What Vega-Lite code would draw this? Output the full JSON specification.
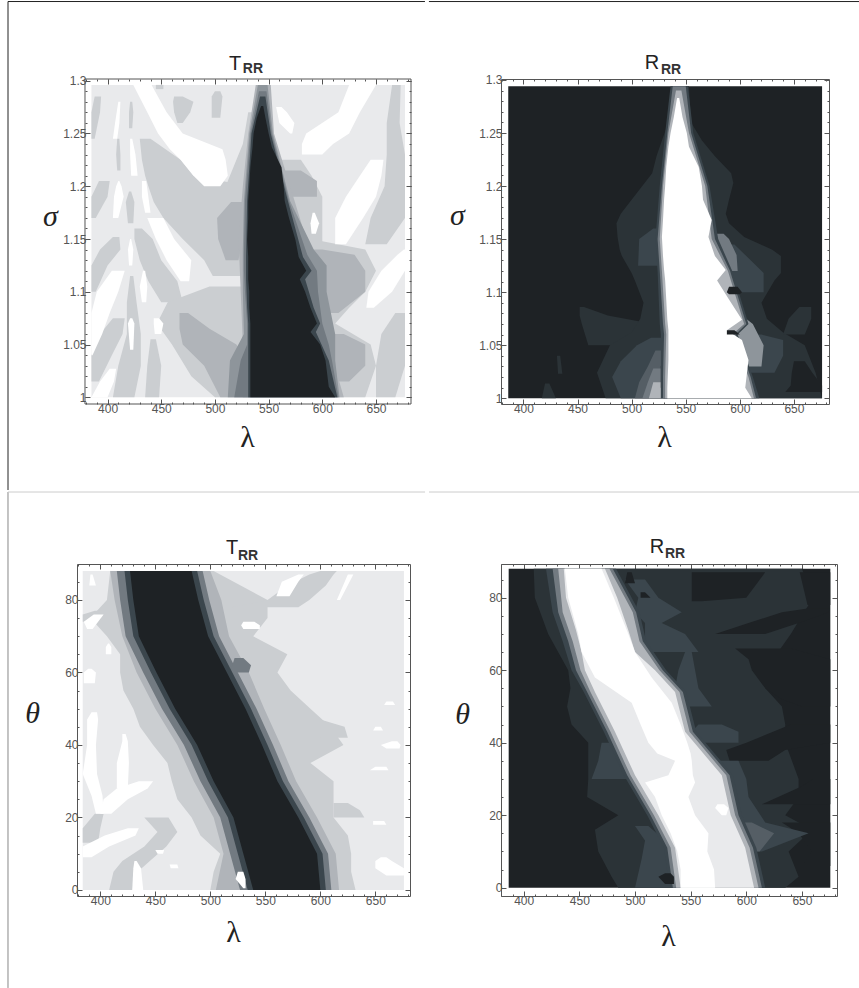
{"$schema":"https://vega.github.io/schema/vega-lite/v6.json","padding":{"left":6,"top":0,"right":0,"bottom":0},"autosize":{"type":"pad"},"background":"white",
"config":{"view":{"stroke":"#555555","fill":"white"},"axis":{"grid":false,"domain":false,"labelFont":"Liberation Sans","labelFontSize":12,"labelColor":"#555555","tickColor":"#555555","tickWidth":1,"labelFlush":false,"labelOverlap":false,"labelPadding":4,"titleFont":"Liberation Serif","titleFontSize":30,"titleFontWeight":"normal","titleColor":"#222222","titleAngle":0,"titleBaseline":"middle","titleAlign":"center"}},
"datasets":{
"p1":[
{"g":"b","v":1,"y":1,"a":385,"b":677},{"g":"b","v":1,"y":1.296,"a":385,"b":677},
{"g":"g1","v":2,"y":1.245,"a":385,"b":388},{"g":"g1","v":2,"y":1.27,"a":385,"b":393},{"g":"g1","v":2,"y":1.285,"a":388,"b":394},
{"g":"g2","v":2,"y":1.17,"a":385,"b":389},{"g":"g2","v":2,"y":1.19,"a":385,"b":400},{"g":"g2","v":2,"y":1.205,"a":392,"b":402},
{"g":"g3","v":2,"y":1.1,"a":385,"b":389},{"g":"g3","v":2,"y":1.125,"a":385,"b":400},{"g":"g3","v":2,"y":1.14,"a":393,"b":412},{"g":"g3","v":2,"y":1.152,"a":405,"b":411},
{"g":"g4","v":2,"y":1.015,"a":385,"b":392},{"g":"g4","v":2,"y":1.04,"a":385,"b":404},{"g":"g4","v":2,"y":1.06,"a":393,"b":414},{"g":"g4","v":2,"y":1.075,"a":405,"b":416},
{"g":"g5","v":2,"y":1,"a":405,"b":425},{"g":"g5","v":2,"y":1.03,"a":410,"b":431},{"g":"g5","v":2,"y":1.06,"a":418,"b":431},{"g":"g5","v":2,"y":1.09,"a":418,"b":427},{"g":"g5","v":2,"y":1.115,"a":421,"b":424},
{"g":"s1","v":2,"y":1.165,"a":419,"b":424},{"g":"s1","v":2,"y":1.185,"a":417,"b":425},{"g":"s1","v":2,"y":1.195,"a":420,"b":422},
{"g":"s2","v":2,"y":1.215,"a":409,"b":412},{"g":"s2","v":2,"y":1.23,"a":408,"b":412},{"g":"s2","v":2,"y":1.245,"a":409,"b":411},
{"g":"s3","v":2,"y":1.255,"a":420,"b":423},{"g":"s3","v":2,"y":1.27,"a":420,"b":424},{"g":"s3","v":2,"y":1.28,"a":421,"b":423},
{"g":"g6","v":2,"y":1.09,"a":450,"b":470},{"g":"g6","v":2,"y":1.11,"a":438,"b":465},{"g":"g6","v":2,"y":1.13,"a":430,"b":450},{"g":"g6","v":2,"y":1.15,"a":425,"b":442},{"g":"g6","v":2,"y":1.16,"a":425,"b":432},
{"g":"g7","v":2,"y":1.115,"a":498,"b":533},{"g":"g7","v":2,"y":1.13,"a":490,"b":533},{"g":"g7","v":2,"y":1.15,"a":470,"b":533},{"g":"g7","v":2,"y":1.17,"a":452,"b":533},{"g":"g7","v":2,"y":1.185,"a":443,"b":533},{"g":"g7","v":2,"y":1.2,"a":438,"b":533},{"g":"g7","v":2,"y":1.21,"a":435,"b":480},{"g":"g7","v":2,"y":1.225,"a":432,"b":468},{"g":"g7","v":2,"y":1.245,"a":430,"b":440},
{"g":"g8","v":2,"y":1.2,"a":510,"b":533},{"g":"g8","v":2,"y":1.24,"a":526,"b":533},{"g":"g8","v":2,"y":1.27,"a":531,"b":536},
{"g":"g9","v":2,"y":1,"a":500,"b":533},{"g":"g9","v":2,"y":1.02,"a":478,"b":533},{"g":"g9","v":2,"y":1.05,"a":460,"b":533},{"g":"g9","v":2,"y":1.07,"a":446,"b":533},{"g":"g9","v":2,"y":1.09,"a":456,"b":533},{"g":"g9","v":2,"y":1.105,"a":495,"b":533},
{"g":"g10","v":2,"y":1,"a":435,"b":448},{"g":"g10","v":2,"y":1.03,"a":437,"b":450},{"g":"g10","v":2,"y":1.055,"a":440,"b":445},
{"g":"g11","v":2,"y":1.13,"a":575,"b":600},{"g":"g11","v":2,"y":1.16,"a":570,"b":600},{"g":"g11","v":2,"y":1.19,"a":565,"b":600},{"g":"g11","v":2,"y":1.21,"a":562,"b":590},{"g":"g11","v":2,"y":1.225,"a":560,"b":580},
{"g":"g12","v":2,"y":1,"a":610,"b":640},{"g":"g12","v":2,"y":1.03,"a":603,"b":650},{"g":"g12","v":2,"y":1.05,"a":600,"b":645},{"g":"g12","v":2,"y":1.07,"a":595,"b":612},{"g":"g12","v":2,"y":1.085,"a":590,"b":625},{"g":"g12","v":2,"y":1.1,"a":585,"b":640},{"g":"g12","v":2,"y":1.12,"a":580,"b":650},{"g":"g12","v":2,"y":1.14,"a":575,"b":640},{"g":"g12","v":2,"y":1.148,"a":575,"b":600},
{"g":"g13","v":2,"y":1.145,"a":640,"b":660},{"g":"g13","v":2,"y":1.17,"a":645,"b":677},{"g":"g13","v":2,"y":1.2,"a":658,"b":677},{"g":"g13","v":2,"y":1.23,"a":660,"b":677},{"g":"g13","v":2,"y":1.26,"a":660,"b":672},{"g":"g13","v":2,"y":1.296,"a":665,"b":673},
{"g":"g14","v":2,"y":1,"a":650,"b":668},{"g":"g14","v":2,"y":1.03,"a":650,"b":677},{"g":"g14","v":2,"y":1.06,"a":655,"b":677},{"g":"g14","v":2,"y":1.08,"a":668,"b":677},
{"g":"d1","v":2,"y":1.26,"a":465,"b":470},{"g":"d1","v":2,"y":1.27,"a":462,"b":477},{"g":"d1","v":2,"y":1.28,"a":461,"b":480},{"g":"d1","v":2,"y":1.285,"a":462,"b":470},
{"g":"d2","v":2,"y":1.265,"a":497,"b":505},{"g":"d2","v":2,"y":1.285,"a":497,"b":507},{"g":"d2","v":2,"y":1.29,"a":500,"b":505},
{"g":"d3","v":2,"y":1.292,"a":445,"b":452},{"g":"d3","v":2,"y":1.296,"a":445,"b":452},
{"g":"a1","v":3,"y":1.13,"a":510,"b":522},{"g":"a1","v":3,"y":1.15,"a":503,"b":525},{"g":"a1","v":3,"y":1.17,"a":502,"b":527},{"g":"a1","v":3,"y":1.185,"a":515,"b":528},
{"g":"a2","v":3,"y":1,"a":505,"b":533},{"g":"a2","v":3,"y":1.03,"a":490,"b":533},{"g":"a2","v":3,"y":1.05,"a":470,"b":520},{"g":"a2","v":3,"y":1.065,"a":467,"b":495},{"g":"a2","v":3,"y":1.08,"a":467,"b":475},
{"g":"a3","v":3,"y":1.08,"a":595,"b":615},{"g":"a3","v":3,"y":1.1,"a":590,"b":640},{"g":"a3","v":3,"y":1.12,"a":590,"b":640},{"g":"a3","v":3,"y":1.135,"a":580,"b":630},{"g":"a3","v":3,"y":1.14,"a":578,"b":600},
{"g":"a4","v":3,"y":1.015,"a":606,"b":625},{"g":"a4","v":3,"y":1.03,"a":600,"b":640},{"g":"a4","v":3,"y":1.05,"a":600,"b":640},{"g":"a4","v":3,"y":1.06,"a":596,"b":620},
{"g":"a5","v":3,"y":1.19,"a":565,"b":595},{"g":"a5","v":3,"y":1.205,"a":565,"b":595},{"g":"a5","v":3,"y":1.215,"a":564,"b":580},
{"g":"m3","v":3,"y":1,"a":526,"b":620},{"g":"m3","v":3,"y":1.05,"a":526,"b":606},{"g":"m3","v":3,"y":1.1,"a":524,"b":594},{"g":"m3","v":3,"y":1.15,"a":522,"b":585},{"g":"m3","v":3,"y":1.2,"a":526,"b":570},{"g":"m3","v":3,"y":1.25,"a":531,"b":555},{"g":"m3","v":3,"y":1.296,"a":538,"b":552},
{"g":"m4","v":4,"y":1,"a":512,"b":616},{"g":"m4","v":4,"y":1.035,"a":514,"b":612},{"g":"m4","v":4,"y":1.06,"a":527,"b":612},{"g":"m4","v":4,"y":1.1,"a":526,"b":604},{"g":"m4","v":4,"y":1.125,"a":526,"b":604},{"g":"m4","v":4,"y":1.14,"a":526,"b":592},{"g":"m4","v":4,"y":1.186,"a":527,"b":570},{"g":"m4","v":4,"y":1.25,"a":532,"b":554},{"g":"m4","v":4,"y":1.296,"a":540,"b":549},
{"g":"m5","v":5,"y":1,"a":518,"b":615},{"g":"m5","v":5,"y":1.035,"a":524,"b":609},{"g":"m5","v":5,"y":1.05,"a":530,"b":606},{"g":"m5","v":5,"y":1.07,"a":530,"b":600},{"g":"m5","v":5,"y":1.1,"a":528,"b":596},{"g":"m5","v":5,"y":1.12,"a":527,"b":595},{"g":"m5","v":5,"y":1.135,"a":527,"b":586},{"g":"m5","v":5,"y":1.186,"a":528,"b":569},{"g":"m5","v":5,"y":1.25,"a":533,"b":553},{"g":"m5","v":5,"y":1.29,"a":541,"b":548},
{"g":"m7","v":7,"y":1,"a":531,"b":614},{"g":"m7","v":7,"y":1.035,"a":531,"b":606},{"g":"m7","v":7,"y":1.062,"a":531,"b":594},{"g":"m7","v":7,"y":1.07,"a":531,"b":598},{"g":"m7","v":7,"y":1.085,"a":530,"b":592},{"g":"m7","v":7,"y":1.112,"a":529,"b":584},{"g":"m7","v":7,"y":1.12,"a":529,"b":590},{"g":"m7","v":7,"y":1.133,"a":529,"b":582},{"g":"m7","v":7,"y":1.186,"a":530,"b":568},{"g":"m7","v":7,"y":1.25,"a":534,"b":552},{"g":"m7","v":7,"y":1.285,"a":542,"b":547},
{"g":"m9","v":9,"y":1,"a":533,"b":612},{"g":"m9","v":9,"y":1.01,"a":533,"b":606},{"g":"m9","v":9,"y":1.035,"a":533,"b":603},{"g":"m9","v":9,"y":1.05,"a":533,"b":598},{"g":"m9","v":9,"y":1.062,"a":533,"b":589},{"g":"m9","v":9,"y":1.07,"a":533,"b":595},{"g":"m9","v":9,"y":1.085,"a":532,"b":589},{"g":"m9","v":9,"y":1.1,"a":532,"b":584},{"g":"m9","v":9,"y":1.112,"a":531,"b":579},{"g":"m9","v":9,"y":1.12,"a":531,"b":585},{"g":"m9","v":9,"y":1.133,"a":531,"b":578},{"g":"m9","v":9,"y":1.149,"a":530,"b":575},{"g":"m9","v":9,"y":1.17,"a":531,"b":569},{"g":"m9","v":9,"y":1.186,"a":531,"b":565},{"g":"m9","v":9,"y":1.2,"a":532,"b":564},{"g":"m9","v":9,"y":1.218,"a":533,"b":562},{"g":"m9","v":9,"y":1.237,"a":535,"b":553},{"g":"m9","v":9,"y":1.25,"a":536,"b":550},{"g":"m9","v":9,"y":1.265,"a":539,"b":547},{"g":"m9","v":9,"y":1.276,"a":543,"b":545},
{"g":"w1","v":0,"y":1,"a":385,"b":400},{"g":"w1","v":0,"y":1.015,"a":393,"b":406},{"g":"w1","v":0,"y":1.027,"a":402,"b":408},
{"g":"w2","v":0,"y":1.04,"a":385,"b":386},{"g":"w2","v":0,"y":1.06,"a":385,"b":395},{"g":"w2","v":0,"y":1.08,"a":385,"b":402},{"g":"w2","v":0,"y":1.1,"a":390,"b":410},{"g":"w2","v":0,"y":1.12,"a":404,"b":416},
{"g":"w3","v":0,"y":1.045,"a":421,"b":424},{"g":"w3","v":0,"y":1.07,"a":419,"b":425},{"g":"w3","v":0,"y":1.075,"a":421,"b":423},
{"g":"w4","v":0,"y":1.09,"a":432,"b":436},{"g":"w4","v":0,"y":1.105,"a":430,"b":437},{"g":"w4","v":0,"y":1.12,"a":433,"b":435},
{"g":"w5","v":0,"y":1.06,"a":444,"b":450},{"g":"w5","v":0,"y":1.07,"a":443,"b":452},{"g":"w5","v":0,"y":1.075,"a":443,"b":448},
{"g":"w7","v":0,"y":1.125,"a":420,"b":423},{"g":"w7","v":0,"y":1.14,"a":419,"b":424},{"g":"w7","v":0,"y":1.15,"a":421,"b":422},
{"g":"w8","v":0,"y":1.11,"a":468,"b":476},{"g":"w8","v":0,"y":1.13,"a":455,"b":478},{"g":"w8","v":0,"y":1.15,"a":445,"b":462},{"g":"w8","v":0,"y":1.17,"a":437,"b":452},
{"g":"w9","v":0,"y":1.17,"a":405,"b":410},{"g":"w9","v":0,"y":1.19,"a":406,"b":415},{"g":"w9","v":0,"y":1.2,"a":408,"b":413},{"g":"w9","v":0,"y":1.205,"a":410,"b":411},
{"g":"w10","v":0,"y":1.175,"a":435,"b":440},{"g":"w10","v":0,"y":1.19,"a":432,"b":438},{"g":"w10","v":0,"y":1.205,"a":432,"b":436},
{"g":"w11","v":0,"y":1.21,"a":422,"b":428},{"g":"w11","v":0,"y":1.23,"a":421,"b":426},{"g":"w11","v":0,"y":1.245,"a":421,"b":423},
{"g":"w12","v":0,"y":1.245,"a":405,"b":409},{"g":"w12","v":0,"y":1.26,"a":407,"b":411},{"g":"w12","v":0,"y":1.28,"a":410,"b":412},
{"g":"w13","v":0,"y":1.2,"a":490,"b":505},{"g":"w13","v":0,"y":1.21,"a":480,"b":512},{"g":"w13","v":0,"y":1.225,"a":468,"b":510},{"g":"w13","v":0,"y":1.235,"a":458,"b":507},{"g":"w13","v":0,"y":1.25,"a":447,"b":470},{"g":"w13","v":0,"y":1.27,"a":437,"b":455},{"g":"w13","v":0,"y":1.296,"a":424,"b":441},
{"g":"w14","v":0,"y":1.25,"a":570,"b":572},{"g":"w14","v":0,"y":1.26,"a":560,"b":574},{"g":"w14","v":0,"y":1.27,"a":558,"b":567},{"g":"w14","v":0,"y":1.275,"a":557,"b":562},
{"g":"w15","v":0,"y":1.23,"a":581,"b":600},{"g":"w15","v":0,"y":1.24,"a":581,"b":610},{"g":"w15","v":0,"y":1.25,"a":585,"b":625},{"g":"w15","v":0,"y":1.27,"a":615,"b":635},{"g":"w15","v":0,"y":1.296,"a":625,"b":650},
{"g":"w16","v":0,"y":1.145,"a":612,"b":622},{"g":"w16","v":0,"y":1.17,"a":612,"b":638},{"g":"w16","v":0,"y":1.19,"a":622,"b":650},{"g":"w16","v":0,"y":1.21,"a":635,"b":655},{"g":"w16","v":0,"y":1.225,"a":645,"b":657},
{"g":"w17","v":0,"y":1.155,"a":590,"b":594},{"g":"w17","v":0,"y":1.165,"a":589,"b":597},{"g":"w17","v":0,"y":1.175,"a":591,"b":593},
{"g":"w18","v":0,"y":1.085,"a":641,"b":648},{"g":"w18","v":0,"y":1.1,"a":643,"b":665},{"g":"w18","v":0,"y":1.12,"a":655,"b":677},{"g":"w18","v":0,"y":1.135,"a":670,"b":677},{"g":"w18","v":0,"y":1.14,"a":676,"b":677}
],
"p2":[
{"g":"b","v":9,"y":1,"a":386,"b":676},{"g":"b","v":9,"y":1.294,"a":386,"b":676},
{"g":"e1","v":8,"y":1,"a":417,"b":430},{"g":"e1","v":8,"y":1.014,"a":420,"b":424},
{"g":"e2","v":8,"y":1.023,"a":432,"b":436},{"g":"e2","v":8,"y":1.04,"a":431,"b":434},
{"g":"e3","v":8,"y":1.05,"a":460,"b":520},{"g":"e3","v":8,"y":1.07,"a":454,"b":520},{"g":"e3","v":8,"y":1.078,"a":452,"b":478},{"g":"e3","v":8,"y":1.086,"a":452,"b":456},
{"g":"e4","v":8,"y":1,"a":476,"b":676},{"g":"e4","v":8,"y":1.024,"a":468,"b":670},{"g":"e4","v":8,"y":1.05,"a":480,"b":660},{"g":"e4","v":8,"y":1.062,"a":500,"b":640},{"g":"e4","v":8,"y":1.075,"a":508,"b":625},{"g":"e4","v":8,"y":1.09,"a":511,"b":620},{"g":"e4","v":8,"y":1.111,"a":503,"b":632},{"g":"e4","v":8,"y":1.118,"a":500,"b":638},{"g":"e4","v":8,"y":1.134,"a":491,"b":638},{"g":"e4","v":8,"y":1.14,"a":489,"b":630},{"g":"e4","v":8,"y":1.152,"a":487,"b":604},{"g":"e4","v":8,"y":1.165,"a":486,"b":590},{"g":"e4","v":8,"y":1.174,"a":490,"b":587},{"g":"e4","v":8,"y":1.187,"a":500,"b":590},{"g":"e4","v":8,"y":1.203,"a":512,"b":594},{"g":"e4","v":8,"y":1.212,"a":519,"b":592},{"g":"e4","v":8,"y":1.228,"a":523,"b":577},{"g":"e4","v":8,"y":1.243,"a":528,"b":565},{"g":"e4","v":8,"y":1.26,"a":534,"b":555},{"g":"e4","v":8,"y":1.294,"a":538,"b":553},
{"g":"e5","v":8,"y":1.06,"a":640,"b":660},{"g":"e5","v":8,"y":1.075,"a":645,"b":666},{"g":"e5","v":8,"y":1.086,"a":655,"b":666},
{"g":"h1","v":9,"y":1.006,"a":642,"b":676},{"g":"h1","v":9,"y":1.012,"a":647,"b":676},{"g":"h1","v":9,"y":1.024,"a":648,"b":667},{"g":"h1","v":9,"y":1.035,"a":650,"b":660},
{"g":"l1","v":7,"y":1.125,"a":506,"b":530},{"g":"l1","v":7,"y":1.15,"a":507,"b":530},{"g":"l1","v":7,"y":1.16,"a":520,"b":530},
{"g":"l2","v":7,"y":1,"a":490,"b":533},{"g":"l2","v":7,"y":1.02,"a":482,"b":533},{"g":"l2","v":7,"y":1.035,"a":490,"b":533},{"g":"l2","v":7,"y":1.05,"a":505,"b":533},{"g":"l2","v":7,"y":1.057,"a":518,"b":533},
{"g":"l3","v":7,"y":1.1,"a":585,"b":622},{"g":"l3","v":7,"y":1.118,"a":585,"b":622},{"g":"l3","v":7,"y":1.13,"a":580,"b":610},{"g":"l3","v":7,"y":1.145,"a":575,"b":595},
{"g":"l4","v":7,"y":1.024,"a":603,"b":632},{"g":"l4","v":7,"y":1.04,"a":603,"b":640},{"g":"l4","v":7,"y":1.055,"a":600,"b":640},{"g":"l4","v":7,"y":1.06,"a":595,"b":620},
{"g":"l5","v":6,"y":1,"a":503,"b":533},{"g":"l5","v":6,"y":1.015,"a":507,"b":533},{"g":"l5","v":6,"y":1.03,"a":515,"b":533},{"g":"l5","v":6,"y":1.045,"a":522,"b":533},
{"g":"l6","v":5,"y":1,"a":510,"b":533},{"g":"l6","v":5,"y":1.015,"a":515,"b":533},{"g":"l6","v":5,"y":1.028,"a":520,"b":533},
{"g":"l7","v":3,"y":1,"a":516,"b":530},{"g":"l7","v":3,"y":1.015,"a":520,"b":528},
{"g":"h2","v":9,"y":1.01,"a":527,"b":533},{"g":"h2","v":9,"y":1.03,"a":527,"b":533},{"g":"h2","v":9,"y":1.04,"a":529,"b":533},
{"g":"r1","v":5,"y":1.12,"a":578,"b":598},{"g":"r1","v":5,"y":1.135,"a":575,"b":597},{"g":"r1","v":5,"y":1.15,"a":572,"b":590},{"g":"r1","v":5,"y":1.155,"a":572,"b":585},
{"g":"r2","v":4,"y":1.03,"a":604,"b":620},{"g":"r2","v":4,"y":1.05,"a":600,"b":622},{"g":"r2","v":4,"y":1.07,"a":593,"b":612},{"g":"r2","v":4,"y":1.078,"a":593,"b":602},
{"g":"w7","v":7,"y":1,"a":527,"b":618},{"g":"w7","v":7,"y":1.02,"a":527,"b":612},{"g":"w7","v":7,"y":1.06,"a":527,"b":598},{"g":"w7","v":7,"y":1.07,"a":526,"b":608},{"g":"w7","v":7,"y":1.12,"a":524,"b":593},{"g":"w7","v":7,"y":1.15,"a":522,"b":580},{"g":"w7","v":7,"y":1.2,"a":526,"b":572},{"g":"w7","v":7,"y":1.25,"a":531,"b":557},{"g":"w7","v":7,"y":1.294,"a":536,"b":552},
{"g":"w5","v":5,"y":1,"a":529,"b":615},{"g":"w5","v":5,"y":1.02,"a":529,"b":610},{"g":"w5","v":5,"y":1.06,"a":530,"b":596},{"g":"w5","v":5,"y":1.07,"a":529,"b":606},{"g":"w5","v":5,"y":1.12,"a":526,"b":591},{"g":"w5","v":5,"y":1.15,"a":524,"b":577},{"g":"w5","v":5,"y":1.2,"a":528,"b":570},{"g":"w5","v":5,"y":1.25,"a":533,"b":555},{"g":"w5","v":5,"y":1.294,"a":538,"b":550},
{"g":"w3","v":3,"y":1,"a":531,"b":613},{"g":"w3","v":3,"y":1.02,"a":531,"b":608},{"g":"w3","v":3,"y":1.06,"a":532,"b":593},{"g":"w3","v":3,"y":1.07,"a":531,"b":604},{"g":"w3","v":3,"y":1.12,"a":528,"b":589},{"g":"w3","v":3,"y":1.15,"a":526,"b":574},{"g":"w3","v":3,"y":1.2,"a":529,"b":568},{"g":"w3","v":3,"y":1.25,"a":534,"b":553},{"g":"w3","v":3,"y":1.29,"a":541,"b":546},
{"g":"w0","v":0,"y":1,"a":533,"b":611},{"g":"w0","v":0,"y":1.01,"a":533,"b":605},{"g":"w0","v":0,"y":1.036,"a":534,"b":608},{"g":"w0","v":0,"y":1.055,"a":534,"b":602},{"g":"w0","v":0,"y":1.064,"a":534,"b":588},{"g":"w0","v":0,"y":1.074,"a":533,"b":602},{"g":"w0","v":0,"y":1.093,"a":532,"b":590},{"g":"w0","v":0,"y":1.111,"a":531,"b":579},{"g":"w0","v":0,"y":1.121,"a":530,"b":587},{"g":"w0","v":0,"y":1.134,"a":529,"b":577},{"g":"w0","v":0,"y":1.152,"a":528,"b":571},{"g":"w0","v":0,"y":1.168,"a":529,"b":574},{"g":"w0","v":0,"y":1.187,"a":530,"b":566},{"g":"w0","v":0,"y":1.2,"a":531,"b":565},{"g":"w0","v":0,"y":1.218,"a":532,"b":562},{"g":"w0","v":0,"y":1.237,"a":534,"b":553},{"g":"w0","v":0,"y":1.25,"a":536,"b":551},{"g":"w0","v":0,"y":1.265,"a":539,"b":547},{"g":"w0","v":0,"y":1.283,"a":542,"b":544},
{"g":"h3","v":9,"y":1.098,"a":590,"b":600},{"g":"h3","v":9,"y":1.1,"a":588,"b":602},{"g":"h3","v":9,"y":1.105,"a":590,"b":598},
{"g":"h4","v":9,"y":1.06,"a":588,"b":600},{"g":"h4","v":9,"y":1.064,"a":588,"b":595}
],
"p3":[
{"g":"b","v":1,"y":0,"a":384,"b":676},{"g":"b","v":1,"y":88,"a":384,"b":676},
{"g":"c","v":2,"y":0,"a":500,"b":632},{"g":"c","v":2,"y":5,"a":503,"b":628},{"g":"c","v":2,"y":10,"a":509,"b":628},{"g":"c","v":2,"y":15,"a":491,"b":625},{"g":"c","v":2,"y":20,"a":483,"b":612},{"g":"c","v":2,"y":25,"a":470,"b":612},{"g":"c","v":2,"y":30,"a":465,"b":612},{"g":"c","v":2,"y":35,"a":461,"b":591},{"g":"c","v":2,"y":40,"a":448,"b":621},{"g":"c","v":2,"y":45,"a":436,"b":609},{"g":"c","v":2,"y":50,"a":430,"b":591},{"g":"c","v":2,"y":55,"a":421,"b":573},{"g":"c","v":2,"y":60,"a":418,"b":561},{"g":"c","v":2,"y":65,"a":418,"b":570},{"g":"c","v":2,"y":70,"a":406,"b":539},{"g":"c","v":2,"y":75,"a":391,"b":552},{"g":"c","v":2,"y":80,"a":406,"b":552},{"g":"c","v":2,"y":88,"a":409,"b":503},
{"g":"c1","v":2,"y":78,"a":520,"b":580},{"g":"c1","v":2,"y":80,"a":552,"b":590},{"g":"c1","v":2,"y":84,"a":570,"b":605},{"g":"c1","v":2,"y":87,"a":590,"b":612},{"g":"c1","v":2,"y":88,"a":600,"b":615},
{"g":"c2","v":2,"y":74,"a":384,"b":395},{"g":"c2","v":2,"y":76,"a":384,"b":405},{"g":"c2","v":2,"y":77,"a":395,"b":410},
{"g":"c3","v":2,"y":0,"a":408,"b":430},{"g":"c3","v":2,"y":5,"a":412,"b":434},{"g":"c3","v":2,"y":8,"a":420,"b":445},{"g":"c3","v":2,"y":12,"a":440,"b":460},{"g":"c3","v":2,"y":16,"a":452,"b":470},{"g":"c3","v":2,"y":20,"a":440,"b":462},
{"g":"c4","v":2,"y":13,"a":384,"b":398},{"g":"c4","v":2,"y":17,"a":384,"b":400},{"g":"c4","v":2,"y":21,"a":395,"b":403},
{"g":"c5","v":2,"y":20,"a":612,"b":640},{"g":"c5","v":2,"y":22,"a":612,"b":636},{"g":"c5","v":2,"y":24,"a":612,"b":625},
{"g":"c6","v":2,"y":42,"a":600,"b":625},{"g":"c6","v":2,"y":45,"a":590,"b":622},{"g":"c6","v":2,"y":47,"a":590,"b":600},
{"g":"c7","v":3,"y":0,"a":505,"b":617},{"g":"c7","v":3,"y":10,"a":512,"b":614},{"g":"c7","v":3,"y":20,"a":503,"b":597},{"g":"c7","v":3,"y":30,"a":485,"b":578},{"g":"c7","v":3,"y":40,"a":470,"b":564},{"g":"c7","v":3,"y":50,"a":450,"b":549},{"g":"c7","v":3,"y":60,"a":433,"b":535},{"g":"c7","v":3,"y":70,"a":420,"b":517},{"g":"c7","v":3,"y":80,"a":413,"b":510},{"g":"c7","v":3,"y":88,"a":409,"b":500},
{"g":"c8","v":5,"y":0,"a":527,"b":610},{"g":"c8","v":5,"y":10,"a":518,"b":607},{"g":"c8","v":5,"y":20,"a":509,"b":590},{"g":"c8","v":5,"y":30,"a":491,"b":571},{"g":"c8","v":5,"y":40,"a":476,"b":557},{"g":"c8","v":5,"y":50,"a":456,"b":542},{"g":"c8","v":5,"y":60,"a":439,"b":525},{"g":"c8","v":5,"y":70,"a":423,"b":508},{"g":"c8","v":5,"y":80,"a":418,"b":499},{"g":"c8","v":5,"y":88,"a":415,"b":493},
{"g":"c9","v":5,"y":60,"a":518,"b":535},{"g":"c9","v":5,"y":62,"a":520,"b":537},{"g":"c9","v":5,"y":64,"a":522,"b":530},
{"g":"c10","v":7,"y":0,"a":534,"b":605},{"g":"c10","v":7,"y":10,"a":525,"b":602},{"g":"c10","v":7,"y":20,"a":516,"b":585},{"g":"c10","v":7,"y":30,"a":498,"b":566},{"g":"c10","v":7,"y":40,"a":483,"b":552},{"g":"c10","v":7,"y":50,"a":463,"b":537},{"g":"c10","v":7,"y":60,"a":446,"b":520},{"g":"c10","v":7,"y":70,"a":430,"b":503},{"g":"c10","v":7,"y":80,"a":425,"b":494},{"g":"c10","v":7,"y":88,"a":422,"b":488},
{"g":"m","v":9,"y":0,"a":539,"b":600},{"g":"m","v":9,"y":10,"a":530,"b":597},{"g":"m","v":9,"y":20,"a":521,"b":580},{"g":"m","v":9,"y":30,"a":503,"b":561},{"g":"m","v":9,"y":40,"a":488,"b":547},{"g":"m","v":9,"y":50,"a":468,"b":532},{"g":"m","v":9,"y":60,"a":451,"b":515},{"g":"m","v":9,"y":70,"a":435,"b":498},{"g":"m","v":9,"y":80,"a":430,"b":489},{"g":"m","v":9,"y":88,"a":427,"b":483},
{"g":"w1","v":0,"y":9,"a":384,"b":392},{"g":"w1","v":0,"y":12,"a":384,"b":408},{"g":"w1","v":0,"y":15,"a":404,"b":432},{"g":"w1","v":0,"y":17,"a":425,"b":435},
{"g":"w2","v":0,"y":21,"a":396,"b":403},{"g":"w2","v":0,"y":26,"a":392,"b":402},{"g":"w2","v":0,"y":32,"a":384,"b":397},{"g":"w2","v":0,"y":40,"a":388,"b":396},{"g":"w2","v":0,"y":47,"a":388,"b":398},{"g":"w2","v":0,"y":49,"a":392,"b":397},
{"g":"w3","v":0,"y":21,"a":400,"b":410},{"g":"w3","v":0,"y":25,"a":403,"b":425},{"g":"w3","v":0,"y":28,"a":415,"b":443},{"g":"w3","v":0,"y":30,"a":435,"b":448},
{"g":"w4","v":0,"y":28,"a":415,"b":425},{"g":"w4","v":0,"y":35,"a":415,"b":426},{"g":"w4","v":0,"y":41,"a":420,"b":425},{"g":"w4","v":0,"y":43,"a":420,"b":423},
{"g":"w5","v":0,"y":72,"a":388,"b":393},{"g":"w5","v":0,"y":74,"a":385,"b":398},{"g":"w5","v":0,"y":76,"a":394,"b":403},
{"g":"w6","v":0,"y":57,"a":385,"b":395},{"g":"w6","v":0,"y":60,"a":385,"b":396},{"g":"w6","v":0,"y":61,"a":389,"b":392},
{"g":"w7","v":0,"y":65,"a":405,"b":410},{"g":"w7","v":0,"y":67,"a":405,"b":410},{"g":"w7","v":0,"y":68,"a":407,"b":408},
{"g":"w8","v":0,"y":84,"a":390,"b":396},{"g":"w8","v":0,"y":87,"a":391,"b":393},
{"g":"w9","v":0,"y":0,"a":429,"b":439},{"g":"w9","v":0,"y":6,"a":430,"b":437},{"g":"w9","v":0,"y":8,"a":431,"b":433},
{"g":"w10","v":0,"y":10,"a":452,"b":457},{"g":"w10","v":0,"y":11,"a":450,"b":458},
{"g":"w11","v":0,"y":6,"a":464,"b":471},{"g":"w11","v":0,"y":7,"a":463,"b":470},
{"g":"w12","v":0,"y":0.5,"a":530,"b":532},{"g":"w12","v":0,"y":3,"a":523,"b":532},{"g":"w12","v":0,"y":5,"a":525,"b":530},
{"g":"w13","v":0,"y":4,"a":660,"b":676},{"g":"w13","v":0,"y":6,"a":650,"b":676},{"g":"w13","v":0,"y":8,"a":650,"b":665},{"g":"w13","v":0,"y":9,"a":655,"b":660},
{"g":"w14","v":0,"y":18,"a":648,"b":660},{"g":"w14","v":0,"y":19,"a":648,"b":658},
{"g":"w15","v":0,"y":33,"a":645,"b":662},{"g":"w15","v":0,"y":34,"a":650,"b":660},
{"g":"w16","v":0,"y":39,"a":660,"b":672},{"g":"w16","v":0,"y":40,"a":655,"b":673},{"g":"w16","v":0,"y":41,"a":665,"b":670},
{"g":"w17","v":0,"y":44,"a":648,"b":657},{"g":"w17","v":0,"y":45,"a":650,"b":655},
{"g":"w18","v":0,"y":51,"a":658,"b":668},{"g":"w18","v":0,"y":52,"a":660,"b":666},
{"g":"w19","v":0,"y":81,"a":560,"b":572},{"g":"w19","v":0,"y":85,"a":565,"b":580},{"g":"w19","v":0,"y":87,"a":580,"b":585},
{"g":"w20","v":0,"y":72,"a":530,"b":545},{"g":"w20","v":0,"y":73,"a":528,"b":545},{"g":"w20","v":0,"y":74,"a":530,"b":540},
{"g":"w21","v":0,"y":80,"a":615,"b":618},{"g":"w21","v":0,"y":87,"a":625,"b":630}
],
"p4":[
{"g":"b","v":9,"y":0,"a":386.5,"b":675.5},{"g":"b","v":9,"y":88,"a":386.5,"b":675.5},
{"g":"m","v":8,"y":0,"a":485,"b":635},{"g":"m","v":8,"y":3,"a":479,"b":647},{"g":"m","v":8,"y":10,"a":467,"b":638},{"g":"m","v":8,"y":16,"a":464,"b":659},{"g":"m","v":8,"y":20,"a":485,"b":635},{"g":"m","v":8,"y":25,"a":457,"b":647},{"g":"m","v":8,"y":30,"a":458,"b":647},{"g":"m","v":8,"y":40,"a":458,"b":635},{"g":"m","v":8,"y":45,"a":443,"b":635},{"g":"m","v":8,"y":50,"a":439,"b":632},{"g":"m","v":8,"y":55,"a":442,"b":617},{"g":"m","v":8,"y":60,"a":440,"b":617},{"g":"m","v":8,"y":70,"a":422,"b":640},{"g":"m","v":8,"y":75,"a":416,"b":650},{"g":"m","v":8,"y":80,"a":410,"b":660},{"g":"m","v":8,"y":88,"a":409,"b":650},
{"g":"h1","v":9,"y":79,"a":551,"b":560},{"g":"h1","v":9,"y":80,"a":551,"b":600},{"g":"h1","v":9,"y":87,"a":551,"b":617},
{"g":"h2","v":9,"y":78,"a":655,"b":675.5},{"g":"h2","v":9,"y":87,"a":648,"b":675.5},
{"g":"h3","v":9,"y":70,"a":572,"b":617},{"g":"h3","v":9,"y":73,"a":602,"b":647},{"g":"h3","v":9,"y":76,"a":632,"b":674},{"g":"h3","v":9,"y":77,"a":655,"b":675},
{"g":"h4","v":9,"y":50,"a":650,"b":675.5},{"g":"h4","v":9,"y":52,"a":632,"b":675.5},{"g":"h4","v":9,"y":55,"a":617,"b":675.5},{"g":"h4","v":9,"y":60,"a":605,"b":675.5},{"g":"h4","v":9,"y":63,"a":602,"b":675.5},{"g":"h4","v":9,"y":66,"a":590,"b":640},
{"g":"h5","v":9,"y":35,"a":585,"b":620},{"g":"h5","v":9,"y":38,"a":582,"b":635},{"g":"h5","v":9,"y":40,"a":600,"b":675.5},{"g":"h5","v":9,"y":45,"a":640,"b":675.5},
{"g":"h6","v":9,"y":23,"a":614,"b":675.5},{"g":"h6","v":9,"y":28,"a":650,"b":675.5},{"g":"h6","v":9,"y":30,"a":660,"b":675.5},
{"g":"h7","v":9,"y":6,"a":650,"b":675.5},{"g":"h7","v":9,"y":10,"a":659,"b":675.5},{"g":"h7","v":9,"y":15,"a":647,"b":675.5},{"g":"h7","v":9,"y":18,"a":632,"b":675.5},
{"g":"l1","v":7,"y":30,"a":461,"b":497},{"g":"l1","v":7,"y":35,"a":467,"b":494},{"g":"l1","v":7,"y":40,"a":470,"b":479},
{"g":"l2","v":7,"y":40,"a":554,"b":593},{"g":"l2","v":7,"y":43,"a":551,"b":593},{"g":"l2","v":7,"y":45,"a":557,"b":578},
{"g":"l3","v":7,"y":50,"a":536,"b":569},{"g":"l3","v":7,"y":55,"a":536,"b":557},{"g":"l3","v":7,"y":60,"a":539,"b":554},{"g":"l3","v":7,"y":65,"a":545,"b":551},
{"g":"l4","v":7,"y":65,"a":509,"b":557},{"g":"l4","v":7,"y":70,"a":509,"b":545},{"g":"l4","v":7,"y":73,"a":509,"b":524},{"g":"l4","v":7,"y":76,"a":500,"b":542},{"g":"l4","v":7,"y":80,"a":503,"b":521},{"g":"l4","v":7,"y":85,"a":491,"b":509},
{"g":"l5","v":7,"y":10,"a":596,"b":614},{"g":"l5","v":7,"y":15,"a":605,"b":656},{"g":"l5","v":7,"y":18,"a":587,"b":617},{"g":"l5","v":7,"y":25,"a":587,"b":602},{"g":"l5","v":7,"y":30,"a":580,"b":600},{"g":"l5","v":7,"y":35,"a":566,"b":593},
{"g":"l6","v":7,"y":0,"a":500,"b":539},{"g":"l6","v":7,"y":8,"a":506,"b":539},{"g":"l6","v":7,"y":13,"a":509,"b":527},{"g":"l6","v":7,"y":17,"a":500,"b":512},
{"g":"n1","v":6,"y":10,"a":600,"b":612},{"g":"n1","v":6,"y":15,"a":600,"b":625},{"g":"n1","v":6,"y":18,"a":592,"b":605},
{"g":"s7","v":7,"y":0,"a":531,"b":617},{"g":"s7","v":7,"y":11,"a":526,"b":609},{"g":"s7","v":7,"y":20,"a":511,"b":596},{"g":"s7","v":7,"y":31,"a":490,"b":588},{"g":"s7","v":7,"y":43,"a":472,"b":555},{"g":"s7","v":7,"y":54,"a":454,"b":546},{"g":"s7","v":7,"y":60,"a":443,"b":528},{"g":"s7","v":7,"y":68,"a":435,"b":510},{"g":"s7","v":7,"y":76,"a":426,"b":504},{"g":"s7","v":7,"y":88,"a":420,"b":483},
{"g":"s5","v":5,"y":0,"a":534,"b":614},{"g":"s5","v":5,"y":11,"a":529,"b":606},{"g":"s5","v":5,"y":20,"a":514,"b":593},{"g":"s5","v":5,"y":31,"a":493,"b":585},{"g":"s5","v":5,"y":43,"a":475,"b":552},{"g":"s5","v":5,"y":54,"a":457,"b":543},{"g":"s5","v":5,"y":60,"a":447,"b":525},{"g":"s5","v":5,"y":68,"a":440,"b":507},{"g":"s5","v":5,"y":76,"a":431,"b":501},{"g":"s5","v":5,"y":88,"a":426,"b":480},
{"g":"s3","v":3,"y":0,"a":537,"b":611},{"g":"s3","v":3,"y":11,"a":532,"b":603},{"g":"s3","v":3,"y":20,"a":517,"b":590},{"g":"s3","v":3,"y":31,"a":496,"b":582},{"g":"s3","v":3,"y":43,"a":478,"b":549},{"g":"s3","v":3,"y":54,"a":460,"b":540},{"g":"s3","v":3,"y":60,"a":451,"b":522},{"g":"s3","v":3,"y":68,"a":444,"b":504},{"g":"s3","v":3,"y":76,"a":435,"b":498},{"g":"s3","v":3,"y":88,"a":431,"b":477},
{"g":"s1","v":1,"y":0,"a":541,"b":607},{"g":"s1","v":1,"y":11,"a":536,"b":599},{"g":"s1","v":1,"y":20,"a":521,"b":586},{"g":"s1","v":1,"y":31,"a":500,"b":578},{"g":"s1","v":1,"y":43,"a":482,"b":545},{"g":"s1","v":1,"y":54,"a":464,"b":536},{"g":"s1","v":1,"y":60,"a":455,"b":518},{"g":"s1","v":1,"y":65,"a":452,"b":500},{"g":"s1","v":1,"y":71,"a":447,"b":494},{"g":"s1","v":1,"y":80,"a":438,"b":484},{"g":"s1","v":1,"y":88,"a":436,"b":473},
{"g":"w","v":0,"y":0,"a":541,"b":572},{"g":"w","v":0,"y":5,"a":541,"b":571},{"g":"w","v":0,"y":10,"a":538,"b":565},{"g":"w","v":0,"y":15,"a":532,"b":566},{"g":"w","v":0,"y":20,"a":524,"b":554},{"g":"w","v":0,"y":25,"a":518,"b":548},{"g":"w","v":0,"y":29,"a":509,"b":554},{"g":"w","v":0,"y":31,"a":530,"b":552},{"g":"w","v":0,"y":35,"a":536,"b":551},{"g":"w","v":0,"y":37,"a":520,"b":550},{"g":"w","v":0,"y":40,"a":512,"b":547},{"g":"w","v":0,"y":45,"a":505,"b":541},{"g":"w","v":0,"y":51,"a":497,"b":533},{"g":"w","v":0,"y":58,"a":464,"b":515},{"g":"w","v":0,"y":65,"a":452,"b":500},{"g":"w","v":0,"y":70,"a":449,"b":494},{"g":"w","v":0,"y":80,"a":440,"b":481},{"g":"w","v":0,"y":88,"a":437,"b":470},
{"g":"w2","v":0,"y":20,"a":578,"b":582},{"g":"w2","v":0,"y":22,"a":572,"b":584},{"g":"w2","v":0,"y":23,"a":574,"b":580},
{"g":"d1","v":9,"y":1,"a":527,"b":535},{"g":"d1","v":9,"y":3,"a":521,"b":535},{"g":"d1","v":9,"y":4,"a":527,"b":532},
{"g":"d2","v":9,"y":84,"a":491,"b":500},{"g":"d2","v":9,"y":87,"a":493,"b":497},
{"g":"d3","v":9,"y":80,"a":505,"b":514},{"g":"d3","v":9,"y":81.5,"a":505,"b":509}
]},
"columns":2,"align":"none","spacing":0,
"concat":[
{"width":334,"height":325,"view":{"stroke":null},"resolve":{"axis":{"x":"independent","y":"independent"}},"layer":[
{"data":{"name":"p1"},"mark":{"type":"area","orient":"horizontal","interpolate":"linear"},"encoding":{"x":{"field":"a","type":"quantitative","scale":{"domain":[371.55,682.6],"nice":false,"zero":false},"axis":{"orient":"bottom","values":[400,450,500,550,600,650],"format":"d","tickSize":-5,"title":"λ","titleX":170,"titleY":33}},"x2":{"field":"b"},"y":{"field":"y","type":"quantitative","scale":{"domain":[0.9937,1.3016],"nice":false,"zero":false},"axis":{"orient":"left","offset":-8,"values":[1,1.05,1.1,1.15,1.2,1.25,1.3],"format":"~g","tickSize":-5,"title":"σ","titleFontStyle":"italic","titleX":-35,"titleY":137}},"fill":{"field":"v","type":"ordinal","legend":null,"scale":{"domain":[0,1,2,3,4,5,6,7,8,9],"range":["#ffffff","#e9eaec","#cbced1","#b0b4b9","#8e959b","#727a81","#555e65","#3b464d","#2b3337","#1e2225"]}},"detail":{"field":"g"}}},
{"data":{"values":[{"a":379,"b":682.6,"y":0.9937,"y2":1.3016}]},"mark":{"type":"rect","fill":"transparent","stroke":"#555555"},"encoding":{"x":{"field":"a","type":"quantitative","axis":null},"x2":{"field":"b"},"y":{"field":"y","type":"quantitative","axis":null},"y2":{"field":"y2"}}},
{"data":{"values":[]},"mark":"rule","encoding":{"x":{"field":"a","type":"quantitative","axis":{"orient":"top","values":[400,450,500,550,600,650],"labels":false,"tickSize":-5,"title":null}},"y":{"field":"y","type":"quantitative","axis":{"orient":"right","values":[1,1.05,1.1,1.15,1.2,1.25,1.3],"labels":false,"tickSize":-5,"title":null}}}},
{"data":{"values":[]},"mark":"rule","encoding":{"x":{"field":"a","type":"quantitative","axis":{"orient":"bottom","tickCount":30,"labels":false,"tickSize":-2,"title":null}},"y":{"field":"y","type":"quantitative","axis":{"orient":"left","offset":-8,"tickCount":30,"labels":false,"tickSize":-2,"title":null}}}},
{"data":{"values":[]},"mark":"rule","encoding":{"x":{"field":"a","type":"quantitative","axis":{"orient":"top","tickCount":30,"labels":false,"tickSize":-2,"title":null}},"y":{"field":"y","type":"quantitative","axis":{"orient":"right","tickCount":30,"labels":false,"tickSize":-2,"title":null}}}},
{"data":{"values":[{"t":"T","a":518.7,"y":1.3158}]},"mark":{"type":"text","font":"Liberation Sans","fontSize":20,"color":"#222222"},"encoding":{"x":{"field":"a","type":"quantitative","axis":null},"y":{"field":"y","type":"quantitative","axis":null},"text":{"field":"t"}}},
{"data":{"values":[{"t":"RR","a":535.4,"y":1.311}]},"mark":{"type":"text","font":"Liberation Sans","fontSize":14,"fontWeight":"bold","color":"#333333"},"encoding":{"x":{"field":"a","type":"quantitative","axis":null},"y":{"field":"y","type":"quantitative","axis":null},"text":{"field":"t"}}},
{"data":{"values":[{"a":307.3,"y":1.375,"y2":0.9122}]},"mark":{"type":"rule","color":"#222222"},"encoding":{"x":{"field":"a","type":"quantitative","axis":null},"y":{"field":"y","type":"quantitative","axis":null},"y2":{"field":"y2"}}},
{"data":{"values":[{"a":307.3,"b":695.6,"y":1.375}]},"mark":{"type":"rule","color":"#222222"},"encoding":{"x":{"field":"a","type":"quantitative","axis":null},"x2":{"field":"b"},"y":{"field":"y","type":"quantitative","axis":null}}}
]},
{"width":328,"height":325,"resolve":{"axis":{"x":"independent","y":"independent"}},"layer":[
{"data":{"name":"p2"},"mark":{"type":"area","orient":"horizontal","interpolate":"linear"},"encoding":{"x":{"field":"a","type":"quantitative","scale":{"domain":[379.3,682.4],"nice":false,"zero":false},"axis":{"orient":"bottom","values":[400,450,500,550,600,650],"format":"d","tickSize":-5,"title":"λ","titleX":163,"titleY":33}},"x2":{"field":"b"},"y":{"field":"y","type":"quantitative","scale":{"domain":[0.9946,1.3009],"nice":false,"zero":false},"axis":{"orient":"left","values":[1,1.05,1.1,1.15,1.2,1.25,1.3],"format":"~g","tickSize":-5,"title":"σ","titleFontStyle":"italic","titleX":-44,"titleY":136}},"fill":{"field":"v","type":"ordinal","legend":null,"scale":{"domain":[0,1,2,3,4,5,6,7,8,9],"range":["#ffffff","#e9eaec","#cbced1","#b0b4b9","#8e959b","#727a81","#555e65","#3b464d","#2b3337","#1e2225"]}},"detail":{"field":"g"}}},
{"data":{"values":[]},"mark":"rule","encoding":{"x":{"field":"a","type":"quantitative","axis":{"orient":"top","values":[400,450,500,550,600,650],"labels":false,"tickSize":-5,"title":null}},"y":{"field":"y","type":"quantitative","axis":{"orient":"right","values":[1,1.05,1.1,1.15,1.2,1.25,1.3],"labels":false,"tickSize":-5,"title":null}}}},
{"data":{"values":[]},"mark":"rule","encoding":{"x":{"field":"a","type":"quantitative","axis":{"orient":"bottom","tickCount":30,"labels":false,"tickSize":-2,"title":null}},"y":{"field":"y","type":"quantitative","axis":{"orient":"left","tickCount":30,"labels":false,"tickSize":-2,"title":null}}}},
{"data":{"values":[]},"mark":"rule","encoding":{"x":{"field":"a","type":"quantitative","axis":{"orient":"top","tickCount":30,"labels":false,"tickSize":-2,"title":null}},"y":{"field":"y","type":"quantitative","axis":{"orient":"right","tickCount":30,"labels":false,"tickSize":-2,"title":null}}}},
{"data":{"values":[{"t":"R","a":518.9,"y":1.316}]},"mark":{"type":"text","font":"Liberation Sans","fontSize":20,"color":"#222222"},"encoding":{"x":{"field":"a","type":"quantitative","axis":null},"y":{"field":"y","type":"quantitative","axis":null},"text":{"field":"t"}}},
{"data":{"values":[{"t":"RR","a":536.5,"y":1.3094}]},"mark":{"type":"text","font":"Liberation Sans","fontSize":14,"fontWeight":"bold","color":"#333333"},"encoding":{"x":{"field":"a","type":"quantitative","axis":null},"y":{"field":"y","type":"quantitative","axis":null},"text":{"field":"t"}}},
{"data":{"values":[{"a":312.7,"b":712,"y":1.3739}]},"mark":{"type":"rule","color":"#222222"},"encoding":{"x":{"field":"a","type":"quantitative","axis":null},"x2":{"field":"b"},"y":{"field":"y","type":"quantitative","axis":null}}},
{"data":{"values":[{"a":315.5,"y":1.3739,"y2":0.9135}]},"mark":{"type":"rule","opacity":0},"encoding":{"x":{"field":"a","type":"quantitative","axis":null},"y":{"field":"y","type":"quantitative","axis":null},"y2":{"field":"y2"}}}
]},
{"width":333,"height":332,"resolve":{"axis":{"x":"independent","y":"independent"}},"layer":[
{"data":{"name":"p3"},"mark":{"type":"area","orient":"horizontal","interpolate":"linear"},"encoding":{"x":{"field":"a","type":"quantitative","scale":{"domain":[378.8,681.5],"nice":false,"zero":false},"axis":{"orient":"bottom","values":[400,450,500,550,600,650],"format":"d","tickSize":-5,"title":"λ","titleX":156,"titleY":36}},"x2":{"field":"b"},"y":{"field":"y","type":"quantitative","scale":{"domain":[-1.66,89.93],"nice":false,"zero":false},"axis":{"orient":"left","values":[0,20,40,60,80],"format":"d","tickSize":-5,"title":"θ","titleFontStyle":"italic","titleX":-45,"titleY":149}},"fill":{"field":"v","type":"ordinal","legend":null,"scale":{"domain":[0,1,2,3,4,5,6,7,8,9],"range":["#ffffff","#e9eaec","#cbced1","#b0b4b9","#8e959b","#727a81","#555e65","#3b464d","#2b3337","#1e2225"]}},"detail":{"field":"g"}}},
{"data":{"values":[]},"mark":"rule","encoding":{"x":{"field":"a","type":"quantitative","axis":{"orient":"top","values":[400,450,500,550,600,650],"labels":false,"tickSize":-5,"title":null}},"y":{"field":"y","type":"quantitative","axis":{"orient":"right","values":[0,20,40,60,80],"labels":false,"tickSize":-5,"title":null}}}},
{"data":{"values":[]},"mark":"rule","encoding":{"x":{"field":"a","type":"quantitative","axis":{"orient":"bottom","tickCount":30,"labels":false,"tickSize":-2,"title":null}},"y":{"field":"y","type":"quantitative","axis":{"orient":"left","tickCount":18,"labels":false,"tickSize":-2,"title":null}}}},
{"data":{"values":[]},"mark":"rule","encoding":{"x":{"field":"a","type":"quantitative","axis":{"orient":"top","tickCount":30,"labels":false,"tickSize":-2,"title":null}},"y":{"field":"y","type":"quantitative","axis":{"orient":"right","tickCount":18,"labels":false,"tickSize":-2,"title":null}}}},
{"data":{"values":[{"t":"T","a":519.7,"y":94.3}]},"mark":{"type":"text","font":"Liberation Sans","fontSize":20,"color":"#222222"},"encoding":{"x":{"field":"a","type":"quantitative","axis":null},"y":{"field":"y","type":"quantitative","axis":null},"text":{"field":"t"}}},
{"data":{"values":[{"t":"RR","a":534.3,"y":92.1}]},"mark":{"type":"text","font":"Liberation Sans","fontSize":14,"fontWeight":"bold","color":"#333333"},"encoding":{"x":{"field":"a","type":"quantitative","axis":null},"y":{"field":"y","type":"quantitative","axis":null},"text":{"field":"t"}}},
{"data":{"values":[{"a":316.07,"y":109.79,"y2":-27.03}]},"mark":{"type":"rule","color":"#888888"},"encoding":{"x":{"field":"a","type":"quantitative","axis":null},"y":{"field":"y","type":"quantitative","axis":null},"y2":{"field":"y2"}}},
{"data":{"values":[{"a":316.07,"b":695.2,"y":109.79}]},"mark":{"type":"rule","color":"#cccccc"},"encoding":{"x":{"field":"a","type":"quantitative","axis":null},"x2":{"field":"b"},"y":{"field":"y","type":"quantitative","axis":null}}}
]},
{"width":336,"height":332,"resolve":{"axis":{"x":"independent","y":"independent"}},"layer":[
{"data":{"name":"p4"},"mark":{"type":"area","orient":"horizontal","interpolate":"linear"},"encoding":{"x":{"field":"a","type":"quantitative","scale":{"domain":[379.6,681.5],"nice":false,"zero":false},"axis":{"orient":"bottom","values":[400,450,500,550,600,650],"format":"d","tickSize":-5,"title":"λ","titleX":167,"titleY":40}},"x2":{"field":"b"},"y":{"field":"y","type":"quantitative","scale":{"domain":[-2.29,89.3],"nice":false,"zero":false},"axis":{"orient":"left","values":[0,20,40,60,80],"format":"d","tickSize":-5,"title":"θ","titleFontStyle":"italic","titleX":-39,"titleY":150}},"fill":{"field":"v","type":"ordinal","legend":null,"scale":{"domain":[0,1,2,3,4,5,6,7,8,9],"range":["#ffffff","#e9eaec","#cbced1","#b0b4b9","#8e959b","#727a81","#555e65","#3b464d","#2b3337","#1e2225"]}},"detail":{"field":"g"}}},
{"data":{"values":[]},"mark":"rule","encoding":{"x":{"field":"a","type":"quantitative","axis":{"orient":"top","values":[400,450,500,550,600,650],"labels":false,"tickSize":-5,"title":null}},"y":{"field":"y","type":"quantitative","axis":{"orient":"right","values":[0,20,40,60,80],"labels":false,"tickSize":-5,"title":null}}}},
{"data":{"values":[]},"mark":"rule","encoding":{"x":{"field":"a","type":"quantitative","axis":{"orient":"bottom","tickCount":30,"labels":false,"tickSize":-2,"title":null}},"y":{"field":"y","type":"quantitative","axis":{"orient":"left","tickCount":18,"labels":false,"tickSize":-2,"title":null}}}},
{"data":{"values":[]},"mark":"rule","encoding":{"x":{"field":"a","type":"quantitative","axis":{"orient":"top","tickCount":30,"labels":false,"tickSize":-2,"title":null}},"y":{"field":"y","type":"quantitative","axis":{"orient":"right","tickCount":18,"labels":false,"tickSize":-2,"title":null}}}},
{"data":{"values":[{"t":"R","a":519.8,"y":94}]},"mark":{"type":"text","font":"Liberation Sans","fontSize":20,"color":"#222222"},"encoding":{"x":{"field":"a","type":"quantitative","axis":null},"y":{"field":"y","type":"quantitative","axis":null},"text":{"field":"t"}}},
{"data":{"values":[{"t":"RR","a":536,"y":92}]},"mark":{"type":"text","font":"Liberation Sans","fontSize":14,"fontWeight":"bold","color":"#333333"},"encoding":{"x":{"field":"a","type":"quantitative","axis":null},"y":{"field":"y","type":"quantitative","axis":null},"text":{"field":"t"}}},
{"data":{"values":[{"a":314.9,"b":703.05,"y":109.16}]},"mark":{"type":"rule","color":"#cccccc"},"encoding":{"x":{"field":"a","type":"quantitative","axis":null},"x2":{"field":"b"},"y":{"field":"y","type":"quantitative","axis":null}}}
]}
]}
